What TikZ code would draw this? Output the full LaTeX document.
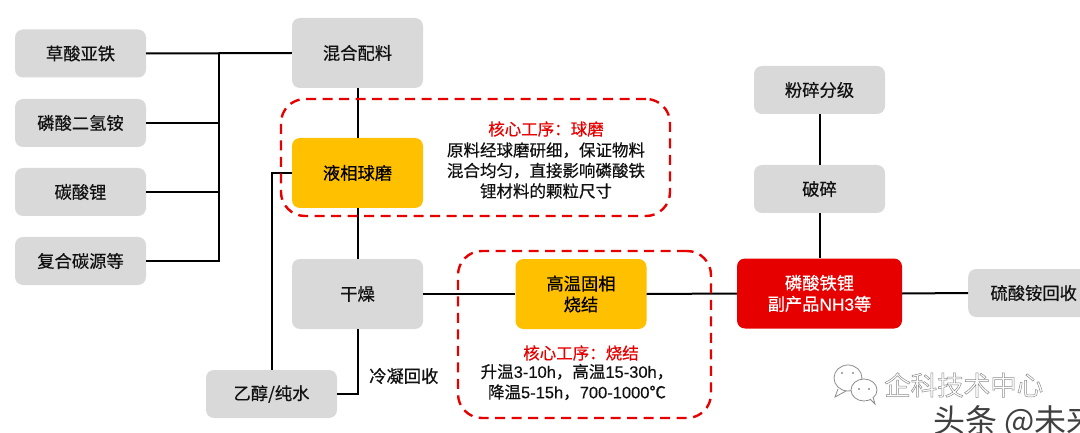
\documentclass[tikz,border=0pt]{standalone}
\usepackage{fontspec}
\setmainfont{Noto Sans CJK SC}[FakeBold=0.5]
\newfontfamily\lat{Liberation Sans}[FakeBold=0.3]
\newfontfamily\plaincjk{Noto Sans CJK SC}
\definecolor{boxgrey}{HTML}{D9D9D9}
\definecolor{coreyellow}{HTML}{FFC000}
\definecolor{corered}{HTML}{E60000}
\definecolor{txt}{HTML}{111111}
\definecolor{wm}{HTML}{8C8C8C}
\tikzset{
  base/.style={rounded corners=8pt,inner sep=0pt,align=center,text=txt,font=\fontsize{17.3}{21}\selectfont},
  sbox/.style={base,fill=boxgrey,minimum width=131pt,minimum height=48pt},
  bbox/.style={base,fill=boxgrey,minimum width=131pt,minimum height=70pt},
  ybox/.style={bbox,fill=coreyellow,text=black},
  rbox/.style={base,fill=corered,text=white,minimum width=165pt,minimum height=70pt},
  conn/.style={draw=black,line width=2pt},
  dashbox/.style={draw=corered,line width=2.4pt,dash pattern=on 10pt off 6.5pt,rounded corners=24pt},
  note/.style={inner sep=0pt,align=center,text=txt,font=\fontsize{16.5}{20.5}\selectfont},
  title/.style={inner sep=0pt,text=corered,font=\fontsize{16.5}{18}\selectfont},
  wmark/.style={inner sep=0pt,text=wm,font=\plaincjk\fontsize{26.5}{30}\selectfont},
}
\begin{document}
\begin{tikzpicture}[x=1pt,y=-1pt]
\useasboundingbox (0,0) rectangle (1080,433);
\fill[white] (0,0) rectangle (1080,433);
% boxes
\node[sbox] (a1) at (80.5,53.5) {草酸亚铁};
\node[sbox] (a2) at (80.5,123) {磷酸二氢铵};
\node[sbox] (a3) at (80.5,192) {碳酸锂};
\node[sbox] (a4) at (80.5,261) {复合碳源等};
\node[bbox] (mix) at (357.5,53) {混合配料};
\node[ybox] (mill) at (357.5,173) {液相球磨};
\node[bbox] (dry) at (357.5,294) {干燥};
\node[sbox] (eth) at (271.5,394) {乙醇/纯水};
\node[ybox] (sint) at (581,294) {高温固相\\烧结};
\node[rbox] (lfp) at (819.5,293.5) {磷酸铁锂\\副产品{\lat NH3}等};
\node[sbox,anchor=west] (amm) at (968,293) {硫酸铵回收};
\node[sbox] (crush) at (819.5,189) {破碎};
\node[sbox] (grind) at (819.5,90) {粉碎分级};
% connectors
\coordinate (bus) at (219,53);
\draw[conn] (a1.east) -- (mix.west);
\draw[conn] (a2.east) -| (bus);
\draw[conn] (a3.east) -| (bus);
\draw[conn] (a4.east) -| (bus);
\draw[conn] (mix) -- (mill);
\draw[conn] (mill) -- (dry);
\draw[conn] (mill.west) -| (eth.north);
\draw[conn] (dry.south) |- (eth.east);
\draw[conn] (dry.east) -- (sint.west);
\draw[conn] (sint.east) -- (lfp.west);
\draw[conn] (lfp.east) -- (amm.west);
\draw[conn] (grind) -- (crush);
\draw[conn] (crush) -- (lfp);
% dashed outlines
\node[dashbox,minimum width=389pt,minimum height=117pt,inner sep=0pt] (core1) at (475.5,157.5) {};
\node[dashbox,minimum width=253pt,minimum height=167pt,inner sep=0pt] (core2) at (584.5,334.5) {};
% notes
\node[title] (t1) at (546,129) {核心工序^^^^ff1a球磨};
\node[note] (n1) at (546,170.5) {原料经球磨研细^^^^ff0c保证物料\\混合均匀^^^^ff0c直接影响磷酸铁\\锂材料的颗粒尺寸};
\node[title] (t2) at (581,353) {核心工序^^^^ff1a烧结};
\node[note] (n2) at (577,382) {升温{\lat 3-10h}^^^^ff0c高温{\lat 15-30h}^^^^ff0c\\降温{\lat 5-15h}^^^^ff0c{\lat 700-1000}℃};
\node[inner sep=0pt,text=txt,font=\fontsize{17.3}{20}\selectfont,anchor=west] (lab) at (369,376) {冷凝回收};
% watermark
\begin{scope}[line width=0.8pt,draw=wm]
\draw (848,378) ellipse [x radius=14pt,y radius=13pt];
\draw (838,389) -- (835,397) -- (846,391);
\draw[fill=white] (864,390) ellipse [x radius=13pt,y radius=11pt];
\draw[fill=white] (870,399) -- (875,404) -- (873,397);
\fill[wm] (842,373) circle (1.2pt) (853,373) circle (1.2pt) (859,389) circle (1.1pt) (869,389) circle (1.1pt);
\end{scope}
\node[wmark,anchor=west] (wm1) at (884,385) {\special{pdf:code 1 Tr 0.5 w}企科技术中心\special{pdf:code 0 Tr}};
\begin{scope}
\clip (900,395) rectangle (1080,433);
\node[wmark,anchor=west,text=black!75,font=\plaincjk\fontsize{32}{34}\selectfont] (wm2) at (933,422) {头条 @未来};
\end{scope}
\end{tikzpicture}
\end{document}
